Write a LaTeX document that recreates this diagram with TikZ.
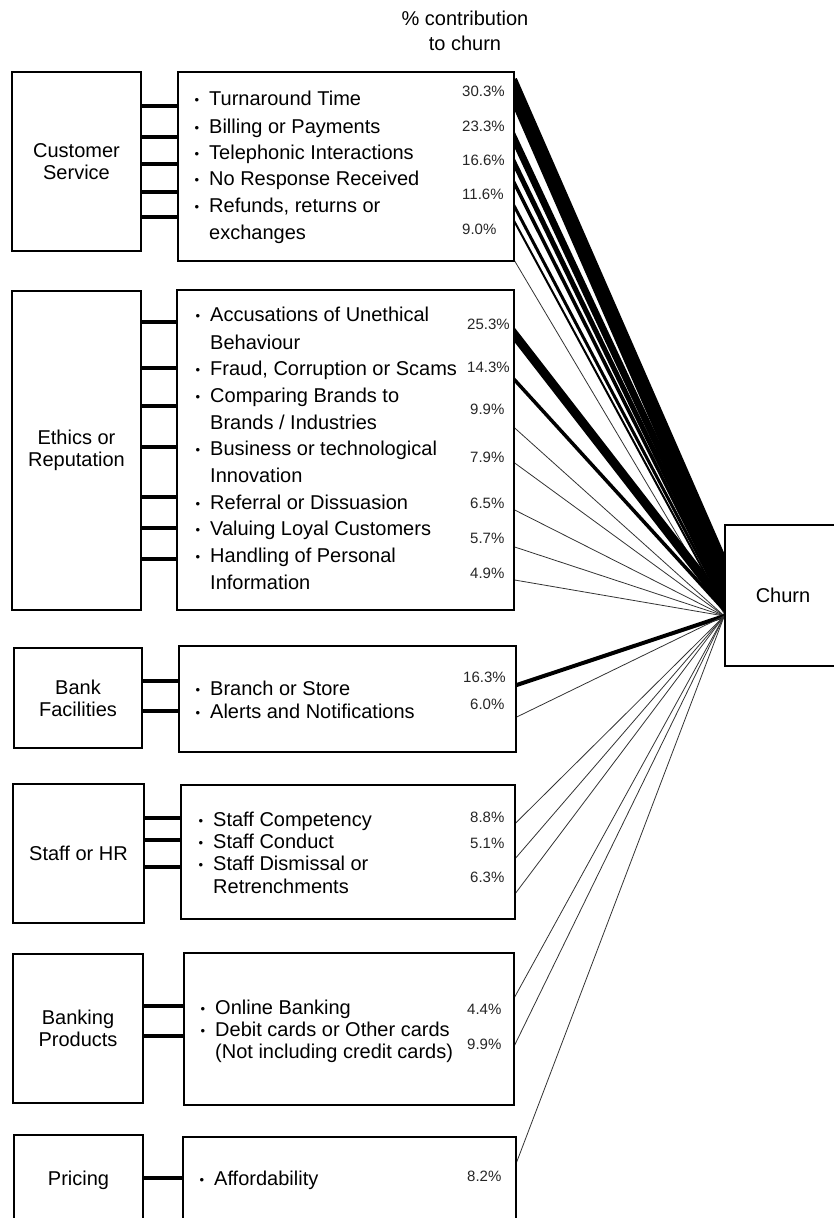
\documentclass[tikz,border=0pt]{standalone}
\usepackage{fontspec}
\setmainfont{Liberation Sans}
\usetikzlibrary{backgrounds}
\newcommand{\itembul}{\makebox[16pt][l]{\hspace{1.5pt}\raisebox{1pt}{\fontsize{13}{13}\selectfont •}}}
\begin{document}
\begin{tikzpicture}[x=1pt,y=-1pt,
  box/.style={draw, line width=1.4pt, fill=white, inner sep=0pt, align=center, font=\fontsize{20}{22}\selectfont},
  item/.style={anchor=base west, inner sep=0pt, font=\fontsize{20}{24}\selectfont},
  pct/.style={anchor=base west, inner sep=0pt, font=\fontsize{15}{18}\selectfont, text=black!85},
  ttl/.style={align=center, inner sep=0pt, font=\fontsize{20}{25}\selectfont},
  link/.style={line width=3.5pt},
  flow/.style={line cap=butt, shorten <=-12pt, shorten >=-12pt},
  thinflow/.style={flow, line width=0.8pt, black!80},
]
\useasboundingbox (0,0) rectangle (834,1218);

\node[ttl] (title) at (465,31) {\% contribution\\to churn};

% ---------- boxes ----------
\node[box, minimum width=129pt, minimum height=179pt] (csL) at (76.5,161.5) {Customer\\Service};
\node[box, minimum width=336pt, minimum height=189pt] (csR) at (346,166.5) {};
\node[box, minimum width=129pt, minimum height=319pt] (ethL) at (76.5,450.5) {Ethics or\\Reputation};
\node[box, minimum width=337pt, minimum height=320pt] (ethR) at (345.5,450) {};
\node[box, minimum width=128pt, minimum height=100pt] (bfL) at (78,698) {Bank\\Facilities};
\node[box, minimum width=337pt, minimum height=106pt] (bfR) at (347.5,699) {};
\node[box, minimum width=131pt, minimum height=139pt] (hrL) at (78.5,853.5) {Staff or HR};
\node[box, minimum width=334pt, minimum height=134pt] (hrR) at (348,852) {};
\node[box, minimum width=130pt, minimum height=149pt] (bpL) at (78,1028.5) {Banking\\Products};
\node[box, minimum width=330pt, minimum height=152pt] (bpR) at (349,1029) {};
\node[box, minimum width=129pt, minimum height=105pt] (prL) at (78.5,1187.5) {};
\node[box, minimum width=333pt, minimum height=103pt] (prR) at (349.5,1188.5) {};
\node[box, minimum width=116pt, minimum height=141pt] (churn) at (783,595.5) {Churn};
\node[item, anchor=base] (prLt) at (78.5,1185) {Pricing};

% ---------- items ----------
\node[item] (cs1) at (193,105) {\itembul Turnaround Time};
\node[item] (cs2) at (193,133) {\itembul Billing or Payments};
\node[item] (cs3) at (193,159) {\itembul Telephonic Interactions};
\node[item] (cs4) at (193,185) {\itembul No Response Received};
\node[item] (cs5) at (193,212) {\itembul Refunds, returns or};
\node[item] (cs5b) at (209,239) {exchanges};

\node[item] (et1) at (194,321) {\itembul Accusations of Unethical};
\node[item] (et1b) at (210,349) {Behaviour};
\node[item] (et2) at (194,375) {\itembul Fraud, Corruption or Scams};
\node[item] (et3) at (194,402) {\itembul Comparing Brands to};
\node[item] (et3b) at (210,429) {Brands / Industries};
\node[item] (et4) at (194,455) {\itembul Business or technological};
\node[item] (et4b) at (210,482) {Innovation};
\node[item] (et5) at (194,509) {\itembul Referral or Dissuasion};
\node[item] (et6) at (194,535) {\itembul Valuing Loyal Customers};
\node[item] (et7) at (194,562) {\itembul Handling of Personal};
\node[item] (et7b) at (210,589) {Information};

\node[item] (bf1) at (194,695) {\itembul Branch or Store};
\node[item] (bf2) at (194,718) {\itembul Alerts and Notifications};

\node[item] (hr1) at (197,826) {\itembul Staff Competency};
\node[item] (hr2) at (197,848) {\itembul Staff Conduct};
\node[item] (hr3) at (197,870) {\itembul Staff Dismissal or};
\node[item] (hr3b) at (213,893) {Retrenchments};

\node[item] (bp1) at (199,1014) {\itembul Online Banking};
\node[item] (bp2) at (199,1036) {\itembul Debit cards or Other cards};
\node[item] (bp2b) at (215,1058) {(Not including credit cards)};

\node[item] (pr1) at (198,1185) {\itembul Affordability};

% ---------- percentages ----------
\node[pct] (p1) at (462,96.5) {30.3\%};
\node[pct] (p2) at (462,131.5) {23.3\%};
\node[pct] (p3) at (462,165.5) {16.6\%};
\node[pct] (p4) at (462,199.5) {11.6\%};
\node[pct] (p5) at (462,234.5) {9.0\%};
\node[pct] (p6) at (467,329.5) {25.3\%};
\node[pct] (p7) at (467,372.5) {14.3\%};
\node[pct] (p8) at (470,414.5) {9.9\%};
\node[pct] (p9) at (470,462.5) {7.9\%};
\node[pct] (p10) at (470,508.5) {6.5\%};
\node[pct] (p11) at (470,543.5) {5.7\%};
\node[pct] (p12) at (470,578.5) {4.9\%};
\node[pct] (p13) at (463,682.5) {16.3\%};
\node[pct] (p14) at (470,709.5) {6.0\%};
\node[pct] (p15) at (470,822.5) {8.8\%};
\node[pct] (p16) at (470,848.5) {5.1\%};
\node[pct] (p17) at (470,882.5) {6.3\%};
\node[pct] (p18) at (467,1014.5) {4.4\%};
\node[pct] (p19) at (467,1049.5) {9.9\%};
\node[pct] (p20) at (467,1181.5) {8.2\%};

% ---------- category-to-topic connectors ----------
\foreach \y in {106,137,164,192,217} \draw[link] (csL.east |- 0,\y) -- (csR.west |- 0,\y);
\foreach \y in {322,368,406,447,497,528,559} \draw[link] (ethL.east |- 0,\y) -- (ethR.west |- 0,\y);
\foreach \y in {681,711} \draw[link] (bfL.east |- 0,\y) -- (bfR.west |- 0,\y);
\foreach \y in {818,840,867} \draw[link] (hrL.east |- 0,\y) -- (hrR.west |- 0,\y);
\foreach \y in {1006,1036} \draw[link] (bpL.east |- 0,\y) -- (bpR.west |- 0,\y);
\draw[link] (prL.east |- 0,1178) -- (prR.west |- 0,1178);

% ---------- flows to churn ----------
\begin{pgfonlayer}{background}
\foreach \a/\b/\w in {92/572/15,140/588/7,164/596/5,184/601/3.5,207/605/3,222/609/2}
  \draw[flow, line width=\w pt] (csR.east |- 0,\a) -- (churn.west |- 0,\b);
\draw[thinflow] (csR.east |- 0,261) -- (churn.west |- 0,614);
\draw[flow, line width=9pt] (ethR.east |- 0,335) -- (churn.west |- 0,605);
\draw[flow, line width=3.5pt] (ethR.east |- 0,380) -- (churn.west |- 0,610);
\foreach \a in {428,463,510,547,580} \draw[thinflow] (ethR.east |- 0,\a) -- (churn.west |- 0,616);
\draw[flow, line width=4pt] (bfR.east |- 0,685) -- (churn.west |- 0,616);
\draw[thinflow] (bfR.east |- 0,717) -- (churn.west |- 0,616);
\foreach \a in {823,858,893} \draw[thinflow] (hrR.east |- 0,\a) -- (churn.west |- 0,616);
\foreach \a in {997,1045} \draw[thinflow] (bpR.east |- 0,\a) -- (churn.west |- 0,616);
\draw[thinflow] (prR.east |- 0,1162) -- (churn.west |- 0,616);
\end{pgfonlayer}
\end{tikzpicture}
\end{document}
